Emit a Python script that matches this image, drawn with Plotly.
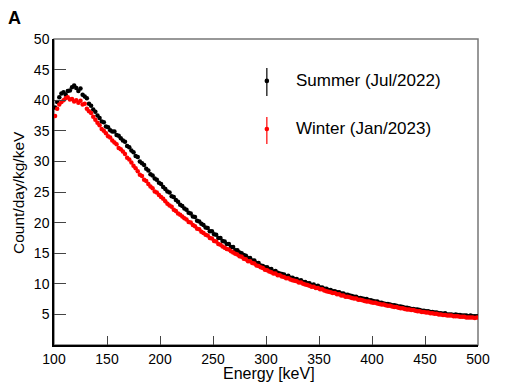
import plotly.graph_objects as go

# bin centres (2 keV bins from 100 to 500 keV)
energy = list(range(101, 500, 2))

# Summer (Jul/2022) rates, count/day/kg/keV
summer = [
    38.8, 39.7, 40.5, 41.1, 41.3, 40.9, 41.5, 41.6, 42.1, 42.4,
    42.0, 41.5, 41.9, 40.9, 40.6, 40.3, 39.4, 39.1, 38.5, 38.1,
    37.5, 37.1, 36.5, 36.4, 35.7, 35.6, 35.1, 34.9, 34.9, 34.3,
    34.2, 33.8, 33.4, 33.2, 32.5, 32.3, 31.8, 31.5, 30.9, 30.7,
    30.0, 29.7, 29.4, 28.8, 28.5, 27.9, 27.7, 27.2, 27.0, 26.5,
    26.3, 25.8, 25.5, 25.1, 24.9, 24.3, 24.2, 23.7, 23.4, 22.9,
    22.7, 22.3, 22.1, 21.6, 21.5, 21.0, 20.9, 20.3, 20.2, 19.8,
    19.6, 19.2, 19.1, 18.6, 18.6, 18.1, 18.0, 17.5, 17.5, 17.0,
    16.9, 16.5, 16.5, 16.0, 16.0, 15.5, 15.5, 15.1, 15.0, 14.7,
    14.6, 14.2, 14.2, 13.8, 13.8, 13.4, 13.4, 13.0, 12.9, 12.7,
    12.7, 12.4, 12.4, 12.0, 12.1, 11.8, 11.7, 11.6, 11.5, 11.2,
    11.3, 11.0, 11.0, 10.8, 10.8, 10.5, 10.6, 10.3, 10.3, 10.1,
    10.1, 9.8, 9.9, 9.6, 9.7, 9.4, 9.4, 9.2, 9.2, 9.0,
    9.0, 8.8, 8.8, 8.6, 8.6, 8.4, 8.4, 8.2, 8.2, 8.1,
    8.0, 7.9, 7.9, 7.7, 7.7, 7.6, 7.5, 7.5, 7.3, 7.3,
    7.2, 7.1, 7.1, 6.9, 6.9, 6.8, 6.7, 6.7, 6.6, 6.5,
    6.5, 6.4, 6.3, 6.3, 6.2, 6.1, 6.1, 6.0, 5.9, 5.9,
    5.8, 5.8, 5.7, 5.6, 5.6, 5.5, 5.5, 5.4, 5.4, 5.3,
    5.3, 5.2, 5.2, 5.1, 5.2, 5.0, 5.0, 5.0, 4.9, 5.0,
    4.9, 4.9, 4.8, 4.8, 4.8, 4.7, 4.8, 4.7, 4.7, 4.7,
]

# Winter (Jan/2023)
winter = [
    37.4, 38.6, 39.3, 39.7, 40.0, 40.3, 40.5, 40.1, 40.2, 39.8,
    40.0, 39.6, 39.9, 39.3, 39.4, 38.6, 38.2, 37.9, 37.3, 36.8,
    36.3, 35.9, 35.3, 35.0, 34.6, 34.1, 33.9, 33.4, 33.1, 32.8,
    32.2, 32.0, 31.6, 31.2, 30.6, 30.3, 29.8, 29.3, 28.9, 28.4,
    27.8, 27.6, 27.0, 26.8, 26.3, 25.9, 25.6, 25.1, 24.9, 24.5,
    24.2, 23.9, 23.5, 23.1, 22.8, 22.6, 22.1, 21.9, 21.5, 21.3,
    21.0, 20.7, 20.5, 20.1, 20.0, 19.6, 19.4, 19.0, 18.9, 18.5,
    18.3, 18.0, 17.9, 17.5, 17.4, 17.0, 16.9, 16.5, 16.4, 16.1,
    15.9, 15.7, 15.6, 15.3, 15.1, 14.9, 14.8, 14.5, 14.4, 14.1,
    14.0, 13.7, 13.7, 13.4, 13.3, 13.0, 12.9, 12.7, 12.6, 12.3,
    12.2, 12.0, 11.9, 11.7, 11.7, 11.4, 11.4, 11.2, 11.1, 10.9,
    10.9, 10.7, 10.6, 10.5, 10.4, 10.2, 10.2, 10.0, 9.9, 9.8,
    9.7, 9.5, 9.5, 9.3, 9.3, 9.1, 9.1, 8.9, 8.8, 8.7,
    8.6, 8.5, 8.5, 8.3, 8.3, 8.1, 8.1, 7.9, 7.9, 7.8,
    7.7, 7.6, 7.6, 7.4, 7.4, 7.3, 7.2, 7.1, 7.1, 7.0,
    6.9, 6.9, 6.8, 6.7, 6.6, 6.6, 6.5, 6.4, 6.4, 6.3,
    6.2, 6.2, 6.1, 6.0, 6.0, 5.9, 5.8, 5.8, 5.7, 5.7,
    5.6, 5.5, 5.5, 5.4, 5.4, 5.3, 5.3, 5.2, 5.2, 5.1,
    5.1, 5.0, 5.0, 4.9, 4.9, 4.8, 4.8, 4.8, 4.7, 4.7,
    4.7, 4.6, 4.6, 4.6, 4.5, 4.5, 4.5, 4.5, 4.4, 4.5,
]

x_ticks = [100, 150, 200, 250, 300, 350, 400, 450, 500]
y_ticks = [5, 10, 15, 20, 25, 30, 35, 40, 45, 50]

FONT = "Liberation Sans, Arial, sans-serif"

fig = go.Figure()
fig.add_trace(go.Scatter(x=energy, y=summer, mode='markers',
                         marker=dict(color='black', size=4.5),
                         name='Summer (Jul/2022)'))
fig.add_trace(go.Scatter(x=energy, y=winter, mode='markers',
                         marker=dict(color='#ff0000', size=4.5),
                         name='Winter (Jan/2023)'))

fig.update_layout(
    width=532, height=384,
    margin=dict(l=54, r=54, t=39, b=39),
    paper_bgcolor='white', plot_bgcolor='white',
    showlegend=False,
    font=dict(family=FONT, color='black', size=14),
)
fig.update_xaxes(range=[100, 500], tickvals=x_ticks, ticks='inside', ticklen=9,
                 tickcolor='#444', tickwidth=1.2, showgrid=False, zeroline=False,
                 showline=True, linecolor='black', linewidth=1.5,
                 tickfont=dict(size=14))
fig.update_yaxes(range=[0, 50], tickvals=y_ticks, ticks='inside', ticklen=12,
                 tickcolor='#444', tickwidth=1.2, showgrid=False, zeroline=False,
                 showline=True, linecolor='black', linewidth=1.5,
                 tickfont=dict(size=14))

# frame
fig.add_shape(type='rect', xref='paper', yref='paper', x0=0, x1=1, y0=0, y1=1,
              line=dict(color='#777', width=1.5), layer='below')

# hand-made legend with error-bar style symbols
for yc, ylo, yhi, col, txt in [(0.863, 0.814, 0.905, 'black', 'Summer (Jul/2022)'),
                               (0.706, 0.657, 0.745, '#ff0000', 'Winter (Jan/2023)')]:
    fig.add_shape(type='line', xref='paper', yref='paper', x0=0.502, x1=0.502,
                  y0=ylo, y1=yhi, line=dict(color=col, width=1.2))
    fig.add_shape(type='circle', xref='paper', yref='paper',
                  xsizemode='pixel', ysizemode='pixel', xanchor=0.502, yanchor=yc,
                  x0=-2.3, x1=2.3, y0=-2.3, y1=2.3,
                  fillcolor=col, line=dict(color=col, width=0))
    fig.add_annotation(x=0.566, y=yc, xref='paper', yref='paper', text=txt,
                       showarrow=False, xanchor='left', yanchor='middle',
                       font=dict(size=17))

# axis titles and panel label
fig.add_annotation(x=0.508, y=-0.094, xref='paper', yref='paper', text='Energy [keV]',
                   showarrow=False, xanchor='center', yanchor='middle',
                   font=dict(size=16))
fig.add_annotation(x=-0.085, y=0.5, xref='paper', yref='paper', text='Count/day/kg/keV',
                   showarrow=False, textangle=-90, xanchor='center', yanchor='middle',
                   font=dict(size=15.5))
fig.add_annotation(x=-0.094, y=1.069, xref='paper', yref='paper', text='<b>A</b>',
                   showarrow=False, xanchor='center', yanchor='middle',
                   font=dict(size=18))

# drop the default 8px page margin so the figure sits at the window corner
fig.write_html("out.html", config={'displayModeBar': False},
               post_script="document.body.style.margin='0';")
